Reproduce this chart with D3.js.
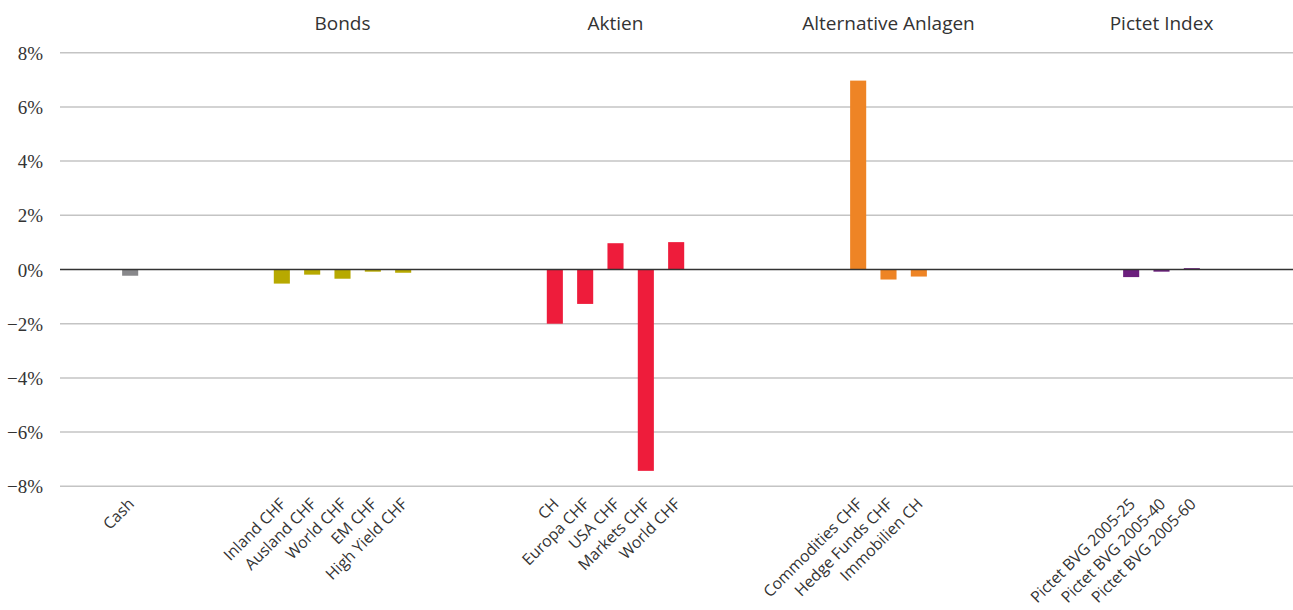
<!DOCTYPE html>
<html>
<head>
<meta charset="utf-8">
<script src="https://cdn.jsdelivr.net/npm/d3@7"></script>
<style>
  body { margin: 0; background: #fff; }
  svg { display: block; }
  .grid line { stroke: #c4c4c4; stroke-width: 1.5px; }
  .xlab { font-family: "Open Sans", sans-serif; font-size: 15.8px; fill: #333; }
  .head { font-family: "Open Sans", sans-serif; font-size: 19px; fill: #333; }
</style>
</head>
<body>
<svg id="chart"></svg>
<script>
// category slots (blank strings are empty slots between groups)
var categories = [
  "Cash", "", "", "", "",
  "Inland CHF", "Ausland CHF", "World CHF", "EM CHF", "High Yield CHF",
  "", "", "", "",
  "CH", "Europa CHF", "USA CHF", "Markets CHF", "World CHF",
  "", "", "", "", "",
  "Commodities CHF", "Hedge Funds CHF", "Immobilien CH",
  "", "", "", "", "", "",
  "Pictet BVG 2005-25", "Pictet BVG 2005-40", "Pictet BVG 2005-60"
];
var groupOf = [
  "cash", null, null, null, null,
  "bonds", "bonds", "bonds", "bonds", "bonds",
  null, null, null, null,
  "aktien", "aktien", "aktien", "aktien", "aktien",
  null, null, null, null, null,
  "alt", "alt", "alt",
  null, null, null, null, null, null,
  "pictet", "pictet", "pictet"
];
var values = [
  -0.23, null, null, null, null,
  -0.52, -0.19, -0.34, -0.08, -0.12,
  null, null, null, null,
  -2.0, -1.27, 0.97, -7.43, 1.01,
  null, null, null, null, null,
  6.97, -0.37, -0.26,
  null, null, null, null, null, null,
  -0.28, -0.08, 0.05
];
var groupNames = ["bonds", "aktien", "alt", "pictet"];
var groupTitles = ["Bonds", "Aktien", "Alternative Anlagen", "Pictet Index"];
var groupColors = { cash: "#88888b", bonds: "#b7a900", aktien: "#ee1c3b", alt: "#ee8425", pictet: "#6b1f7d" };
var yTicks = [8, 6, 4, 2, 0, -2, -4, -6, -8];

var width = 1293, height = 610;
var svg = d3.select("#chart").attr("width", width).attr("height", height);

var plotLeft = 60, plotRight = 1293;
var y = d3.scaleLinear().domain([-8, 8]).range([486.3, 52.7]);

var slots = d3.range(categories.length);
var x = d3.scaleBand().domain(slots).range([115, 1207]).padding(0);
var barW = x.bandwidth() * 0.53;

// gridlines
var grid = svg.append("g").attr("class", "grid");
grid.selectAll("line").data(yTicks.filter(function (d) { return d !== 0; }))
  .enter().append("line")
  .attr("x1", plotLeft).attr("x2", plotRight)
  .attr("y1", function (d) { return y(d); }).attr("y2", function (d) { return y(d); });

// y axis labels
var yAxis = svg.append("g")
  .attr("transform", "translate(43,0)")
  .call(d3.axisLeft(y).tickValues(yTicks).tickSize(0).tickPadding(0)
    .tickFormat(function (d) { return (d < 0 ? "\u2212" + (-d) : d) + "%"; }));
yAxis.select(".domain").remove();
yAxis.attr("font-family", "Liberation Serif").attr("font-size", 19);
yAxis.selectAll("text")
  .attr("dy", "0.35em").attr("text-anchor", "end")
  .attr("fill", "#333");

// bars
var barData = slots.filter(function (i) { return values[i] !== null; });
svg.append("g").selectAll("rect").data(barData)
  .enter().append("rect")
  .attr("x", function (i) { return x(i) + (x.bandwidth() - barW) / 2; })
  .attr("width", barW)
  .attr("y", function (i) { return y(Math.max(0, values[i])); })
  .attr("height", function (i) { return Math.abs(y(values[i]) - y(0)); })
  .attr("fill", function (i) { return groupColors[groupOf[i]]; });

// zero line
svg.append("line")
  .attr("x1", plotLeft).attr("x2", plotRight)
  .attr("y1", y(0)).attr("y2", y(0))
  .attr("stroke", "#333").attr("stroke-width", 1.5);

// category labels
svg.append("g").selectAll("text").data(barData)
  .enter().append("text")
  .attr("class", "xlab")
  .attr("text-anchor", "end")
  .attr("transform", function (i) {
    return "translate(" + (x(i) + x.bandwidth() / 2 + 5) + ",505) rotate(-45)";
  })
  .text(function (i) { return categories[i]; });

// group headers
svg.append("g").selectAll("text").data(groupNames)
  .enter().append("text")
  .attr("class", "head")
  .attr("text-anchor", "middle")
  .attr("y", 30)
  .attr("x", function (g) {
    var idx = slots.filter(function (i) { return groupOf[i] === g; });
    return (x(idx[0]) + x(idx[idx.length - 1]) + x.bandwidth()) / 2;
  })
  .text(function (g, k) { return groupTitles[k]; });
</script>
</body>
</html>
